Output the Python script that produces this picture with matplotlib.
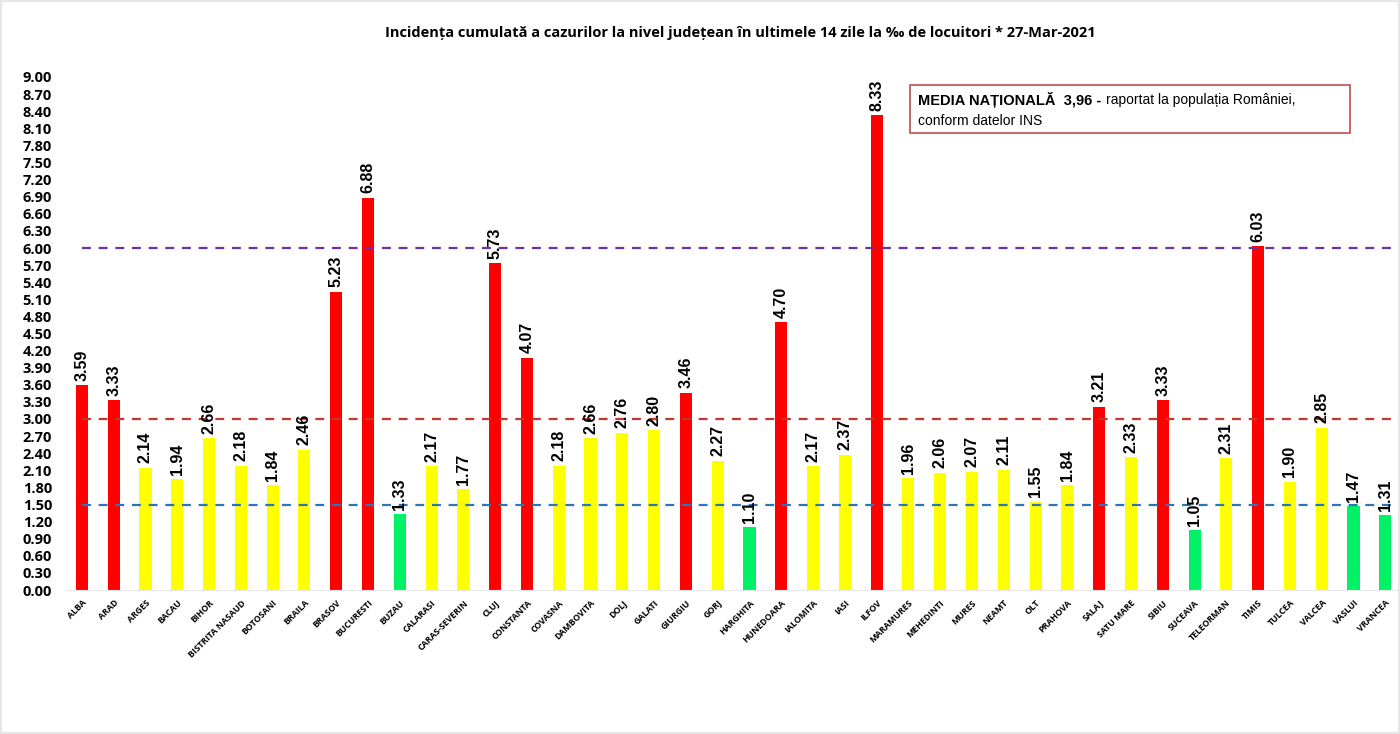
import matplotlib
matplotlib.use("Agg")
import matplotlib.pyplot as plt
from matplotlib.patches import Rectangle
import numpy as np

counties = ["ALBA", "ARAD", "ARGES", "BACAU", "BIHOR", "BISTRITA NASAUD", "BOTOSANI",
            "BRAILA", "BRASOV", "BUCURESTI", "BUZAU", "CALARASI", "CARAS-SEVERIN", "CLUJ",
            "CONSTANTA", "COVASNA", "DAMBOVITA", "DOLJ", "GALATI", "GIURGIU", "GORJ",
            "HARGHITA", "HUNEDOARA", "IALOMITA", "IASI", "ILFOV", "MARAMURES", "MEHEDINTI",
            "MURES", "NEAMT", "OLT", "PRAHOVA", "SALAJ", "SATU MARE", "SIBIU", "SUCEAVA",
            "TELEORMAN", "TIMIS", "TULCEA", "VALCEA", "VASLUI", "VRANCEA"]
values = [3.59, 3.33, 2.14, 1.94, 2.66, 2.18, 1.84, 2.46, 5.23, 6.88, 1.33, 2.17, 1.77,
          5.73, 4.07, 2.18, 2.66, 2.76, 2.80, 3.46, 2.27, 1.10, 4.70, 2.17, 2.37, 8.33,
          1.96, 2.06, 2.07, 2.11, 1.55, 1.84, 3.21, 2.33, 3.33, 1.05, 2.31, 6.03, 1.90,
          2.85, 1.47, 1.31]
thresholds = [6.0, 3.0, 1.5]
yticks = [round(0.3 * i, 2) for i in range(31)]

title = "Incidența cumulată a cazurilor la nivel județean în ultimele 14 zile la ‰ de locuitori * 27-Mar-2021"

def color_for(v):
    if v > 3.0:
        return "#FF0000"
    if v >= 1.5:
        return "#FFFF00"
    return "#00F066"

W, H = 1400, 734
fig = plt.figure(figsize=(14, 7.34), dpi=100)
fig.patch.set_facecolor("white")
ax = fig.add_axes([66 / W, (H - 590) / H, (1398 - 66) / W, (590 - 77) / H])

x = np.arange(len(counties))
ax.bar(x, values, width=0.38, color=[color_for(v) for v in values], zorder=2)

line_colors = ["#7030A0", "#C0392B", "#2E75B6"]
for t, c in zip(thresholds, line_colors):
    ax.plot([x[0], x[-1] + 0.3], [t, t], linestyle=(0, (4, 3.5)), color=c, lw=1.6, zorder=3)

for xi, v in zip(x, values):
    ax.text(xi, v + 0.08, f"{v:.2f}", rotation=90, ha="center", va="bottom",
            fontsize=11.5, fontweight="bold", family="Liberation Sans", zorder=4)

ax.set_xlim(-0.5, 41.4)
ax.set_ylim(0, 9)
ax.set_yticks(yticks)
ax.set_yticklabels([f"{t:.2f}" for t in yticks], fontsize=10.5, fontweight="bold", family="Open Sans")
ax.set_xticks(x)
ax.set_xticklabels(counties, rotation=45, ha="right", rotation_mode="anchor",
                   fontsize=6.3, fontweight="bold", family="Open Sans")
ax.tick_params(axis="both", length=0)
ax.tick_params(axis="y", pad=10)
ax.tick_params(axis="x", pad=6)
for s in ["top", "right", "left"]:
    ax.spines[s].set_visible(False)
ax.spines["bottom"].set_color("#E8E8E8")
ax.set_facecolor("white")

fig.text(740 / W, 1 - 33 / H, title, ha="center", va="center", fontsize=10.5,
         fontweight="bold", family="Open Sans")

# info box
bx0, by0, bx1, by1 = 910, 85, 1350, 133
fig.patches.append(Rectangle((bx0 / W, 1 - by1 / H), (bx1 - bx0) / W, (by1 - by0) / H,
                             transform=fig.transFigure, fill=False, edgecolor="#C0504D", lw=1.2))
t1 = fig.text(918 / W, 1 - 100 / H, "MEDIA NAȚIONALĂ  3,96 - ", ha="left", va="center",
              fontsize=10.5, fontweight="bold", family="Liberation Sans")
fig.canvas.draw()
bb = t1.get_window_extent()
fig.text(bb.x1 / W, 1 - 100 / H, "raportat la populația României,", ha="left", va="center",
         fontsize=10, family="Liberation Sans")
fig.text(918 / W, 1 - 121 / H, "conform datelor INS", ha="left", va="center",
         fontsize=10, family="Liberation Sans")

# light frame
fig.patches.append(Rectangle((0, 0), 1, 1, transform=fig.transFigure, fill=False,
                             edgecolor="#E6E6E6", lw=3))

fig.savefig("out.png", dpi=100)
